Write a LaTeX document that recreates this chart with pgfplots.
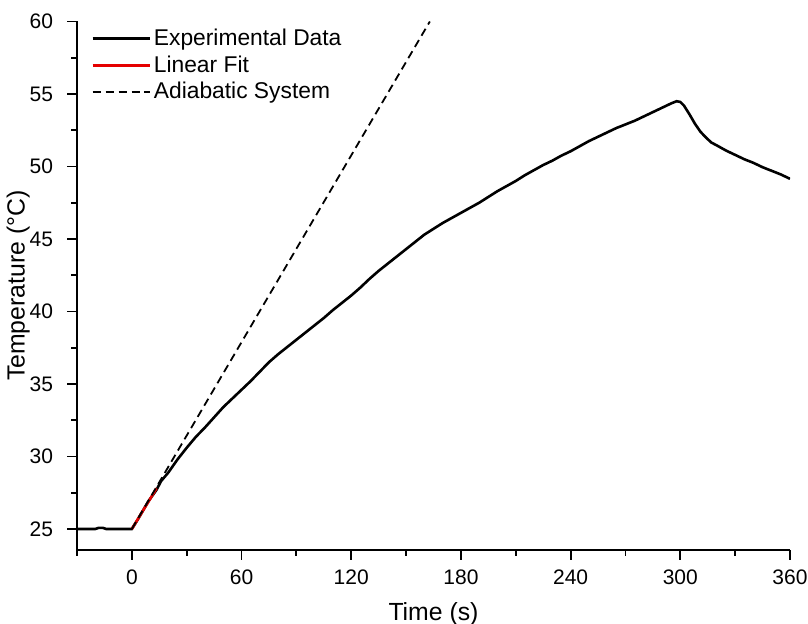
\documentclass[border=0pt]{standalone}
\usepackage{fontspec}
\setmainfont{Liberation Sans}
\usepackage{pgfplots}
\pgfplotsset{compat=1.18}
\begin{document}
\begin{tikzpicture}[font=\fontsize{11.4}{13}\selectfont]
\begin{axis}[
  scale only axis,
  width=356.5pt, height=264.25pt,
  xmin=-30, xmax=360, ymin=23.55, ymax=60,
  axis x line*=bottom, axis y line*=left,
  axis line style={line width=0.9pt,-},
  xtick={0,60,...,360}, minor xtick={-30,30,...,330},
  ytick={25,30,...,60}, minor ytick={27.5,32.5,...,57.5},
  tick align=outside,
  major tick length=5pt, minor tick length=3pt,
  every tick/.style={line width=0.9pt,black},
  /pgf/number format/assume math mode=true,
  tick label style={font=\fontsize{10.5}{12}\selectfont},
  xticklabel style={yshift=-1.5pt},
  yticklabel style={xshift=-3.5pt},
  label style={font=\fontsize{12.4}{14}\selectfont},
  xlabel={Time (s)}, ylabel={Temperature (°C)},
  xlabel style={yshift=-2pt},
  ylabel style={yshift=-7pt},
  legend style={draw=none, fill=none, at={(0,1)}, anchor=north west, xshift=5pt, yshift=0pt,
    row sep=0.6pt, inner sep=2pt, nodes={inner sep=1.5pt}},
  legend cell align=left,
  legend image code/.code={\draw[#1] (0cm,0cm) -- (0.9cm,0cm); \path (0.9cm,0cm) -- (1.0cm,0cm);},
]
\addplot[black, line width=1.3pt] coordinates {
(-30,25.0) (-20,25.0) (-18,25.08) (-16,25.08) (-14,25.0) (0,25.0)
(3,25.6) (6,26.25) (9,26.9) (13.5,27.7) (16,28.3) (20,28.9) (25,29.8)
(30,30.6) (35,31.35) (40,32.0) (45,32.7) (50,33.4) (55,34.0) (60,34.6)
(65,35.2) (70,35.85) (75,36.5) (80,37.05) (85,37.55) (90,38.05) (95,38.55)
(100,39.05) (105,39.55) (110,40.1) (115,40.6) (120,41.1) (125,41.65)
(130,42.25) (135,42.8) (140,43.3) (145,43.8) (150,44.3) (155,44.8)
(160,45.3) (165,45.7) (170,46.1) (175,46.45) (180,46.8) (185,47.15)
(190,47.5) (195,47.9) (200,48.3) (205,48.65) (210,49.0) (215,49.4)
(220,49.75) (225,50.1) (230,50.4) (235,50.75) (240,51.05) (245,51.4)
(250,51.75) (255,52.05) (260,52.35) (265,52.65) (270,52.9) (275,53.15)
(280,53.45) (285,53.75) (290,54.05) (295,54.35) (298,54.5) (300,54.45)
(302,54.2) (305,53.6) (308,52.95) (311,52.4) (314,52.0) (317,51.65)
(320,51.45) (325,51.1) (330,50.8) (335,50.5) (340,50.25) (345,49.95)
(350,49.7) (355,49.45) (360,49.15)
};
\addlegendentry{Experimental Data}
\addplot[red!90!black, line width=1.3pt] coordinates {(0,25.0) (13.5,27.8)};
\addlegendentry{Linear Fit}
\addplot[black, line width=0.9pt, dash pattern=on 4pt off 2.5pt] coordinates {(0,25.0) (163,60)};
\addlegendentry{Adiabatic System}
\end{axis}
\pgfresetboundingbox
\path[use as bounding box] (-38.5pt,-37pt) rectangle (365.5pt,275pt);
\end{tikzpicture}
\end{document}
